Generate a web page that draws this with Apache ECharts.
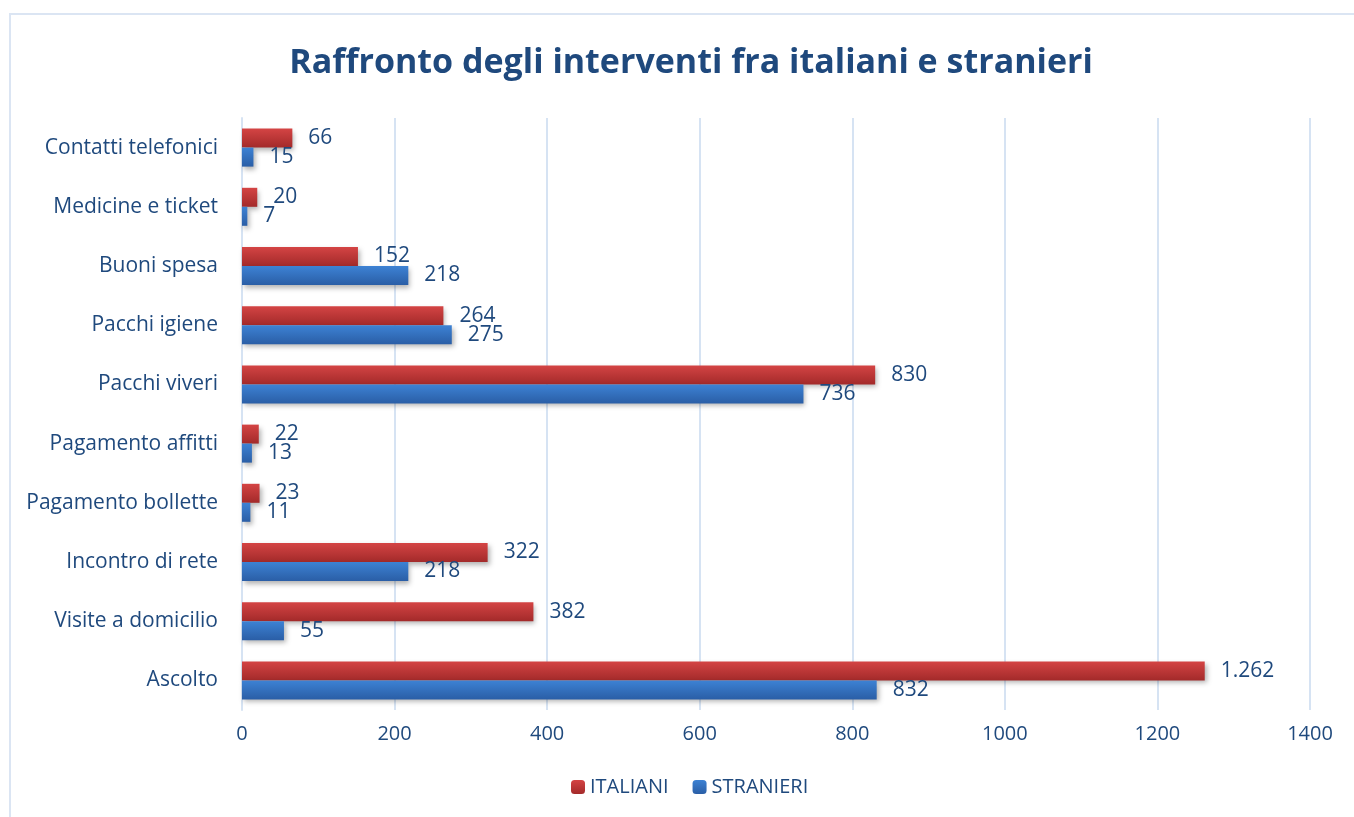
<!DOCTYPE html>
<html>
<head>
<meta charset="utf-8">
<style>
  html, body { margin: 0; padding: 0; background: #fff; }
  #frame { position: absolute; left: 9px; top: 13px; width: 1345px; height: 804px; border: 2px solid #dbe5f3; border-right: none; border-bottom: none; box-sizing: border-box; }
  #chart { width: 1354px; height: 817px; }
</style>
<script src="https://cdn.jsdelivr.net/npm/echarts@6/dist/echarts.min.js"></script>
</head>
<body>
<div id="frame"></div>
<div id="chart" style="position:absolute;left:0;top:0;"></div>
<script>
// categories bottom -> top (echarts draws the first category at the bottom)
const categories = ['Ascolto', 'Visite a domicilio', 'Incontro di rete', 'Pagamento bollette',
  'Pagamento affitti', 'Pacchi viveri', 'Pacchi igiene', 'Buoni spesa',
  'Medicine e ticket', 'Contatti telefonici'];
const italiani = [1262, 382, 322, 23, 22, 830, 264, 152, 20, 66];
const stranieri = [832, 55, 218, 11, 13, 736, 275, 218, 7, 15];
const xTicks = [0, 200, 400, 600, 800, 1000, 1200, 1400];

const textColor = '#1f497d';
const font = '"Open Sans", "Noto Sans", sans-serif';

function grad(top, bottom) {
  return new echarts.graphic.LinearGradient(0, 0, 0, 1, [
    { offset: 0, color: top },
    { offset: 1, color: bottom }
  ]);
}

// italian thousands separator: 1262 -> 1.262
function fmt(v) {
  return String(v).replace(/\B(?=(\d{3})+(?!\d))/g, '.');
}

const myChart = echarts.init(document.getElementById('chart'));
myChart.setOption({
  animation: false,
  title: {
    text: 'Raffronto degli interventi fra italiani e stranieri',
    left: 686,
    textAlign: 'center',
    top: 41,
    textStyle: { color: textColor, fontSize: 34, fontWeight: 'bold', fontFamily: font }
  },
  legend: {
    bottom: 15,
    left: 566,
    itemWidth: 14,
    itemHeight: 14,
    itemGap: 24,
    data: ['ITALIANI', 'STRANIERI'],
    textStyle: { color: textColor, fontSize: 20, fontFamily: font }
  },
  grid: { left: 242, right: 44, top: 118, bottom: 107 },
  xAxis: {
    type: 'value',
    min: xTicks[0],
    max: xTicks[xTicks.length - 1],
    interval: 200,
    axisLine: { show: false },
    axisTick: { show: false },
    splitLine: { lineStyle: { color: '#d6e3f3', width: 2 } },
    axisLabel: { color: textColor, fontSize: 20, fontFamily: font, margin: 14, formatter: v => String(v) }
  },
  yAxis: {
    type: 'category',
    data: categories,
    axisLine: { lineStyle: { color: '#d6e3f3', width: 2 } },
    axisTick: { show: false },
    axisLabel: { color: textColor, fontSize: 21, fontFamily: font, margin: 24 }
  },
  series: [
    {
      name: 'ITALIANI',
      type: 'bar',
      data: italiani,
      barWidth: 19,
      barGap: '0%',
      itemStyle: {
        color: grad('#d44444', '#a32a2a'),
        shadowColor: 'rgba(0,0,0,0.3)', shadowBlur: 5, shadowOffsetX: 2, shadowOffsetY: 3
      },
      label: {
        show: true, position: 'right', distance: 16,
        color: textColor, fontSize: 21, fontFamily: font, formatter: p => fmt(p.value)
      }
    },
    {
      name: 'STRANIERI',
      type: 'bar',
      data: stranieri,
      barWidth: 19,
      barGap: '0%',
      itemStyle: {
        color: grad('#3d82d4', '#2a5ea6'),
        shadowColor: 'rgba(0,0,0,0.3)', shadowBlur: 5, shadowOffsetX: 2, shadowOffsetY: 3
      },
      label: {
        show: true, position: 'right', distance: 16,
        color: textColor, fontSize: 21, fontFamily: font, formatter: p => fmt(p.value)
      }
    }
  ],
  color: ['#c03535', '#2f6fc0']
});
</script>
</body>
</html>
